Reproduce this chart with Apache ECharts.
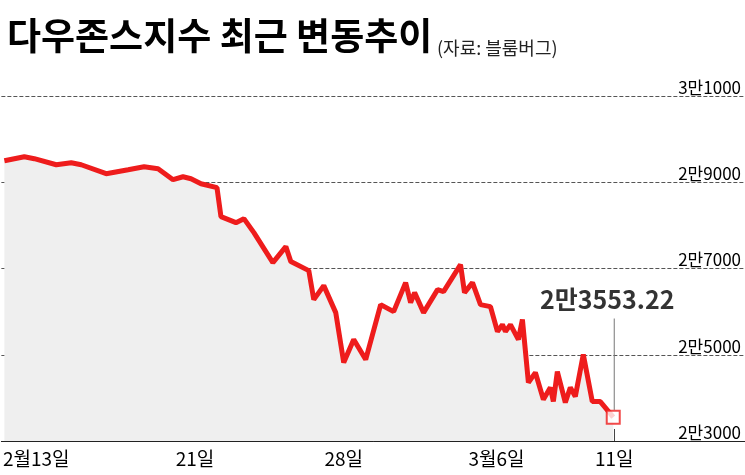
<!DOCTYPE html><html><head><meta charset="utf-8"><script src="https://cdn.jsdelivr.net/npm/echarts@6/dist/echarts.min.js"></script>
<style>body{margin:0;background:#fff}#c{width:745px;height:475px}</style></head><body><div id="c"></div><script>
const xs=[3,23,33,55,70,80,105,127,143,157,172,182,190,200,216,220,235,243,253,272,285,290,308,313,323,335,343,353,365,380,393,405,410,414,423,437,443,460,464,472,480,490,497,502,505,510,518,522,528,535,543,550,553,557,565,570,575,583,592,600,613];
const vals=[29499,29592,29546,29406,29453,29406,29198,29291,29360,29314,29059,29128,29082,28966,28874,28202,28063,28156,27831,27136,27507,27160,26951,26279,26603,25977,24819,25352,24888,26163,26000,26672,26209,26441,25977,26510,26464,27090,26441,26672,26163,26116,25537,25699,25537,25699,25352,25815,24355,24587,23962,24240,23915,24610,23892,24240,24031,25004,23915,23915,23553.22];
const tickPos=[35,194,343,496,614];
const tickLabels=['2월13일','21일','28일','3월6일','11일'];
const yTicks={31000:'3만1000',29000:'2만9000',27000:'2만7000',25000:'2만5000',23000:'2만3000'};
const endLabel='2만3553.22';
const data=xs.map((x,i)=>[x,vals[i]]);
const last=data[data.length-1];
const ch=echarts.init(document.getElementById('c'));
ch.setOption({
 animation:false,
 title:[{text:'다우존스지수 최근 변동추이',left:2,top:12,textStyle:{fontFamily:'Noto Sans CJK KR',fontWeight:'bold',fontSize:37,color:'#000',letterSpacing:-2}},
  {text:'(자료: 블룸버그)',left:432,top:34,textStyle:{fontFamily:'Noto Sans CJK KR',fontWeight:'normal',fontSize:18,color:'#222',letterSpacing:-1}},],
 grid:{left:0,right:0,top:96,bottom:34},
 xAxis:{type:'value',min:0,max:745,splitLine:{show:false},
  axisLine:{lineStyle:{color:'#222',width:1}},
  axisTick:{inside:true,length:12,lineStyle:{color:'#444'},customValues:tickPos},
  axisLabel:{customValues:tickPos,formatter:v=>tickLabels[tickPos.indexOf(v)],fontFamily:'Noto Sans CJK KR',fontSize:19,color:'#000',margin:8,letterSpacing:-1.5}},
 yAxis:{type:'value',position:'right',min:23000,max:31000,interval:2000,
  axisLine:{show:false},axisTick:{show:false},
  splitLine:{lineStyle:{type:[4,2],color:'#555',width:1}},
  axisLabel:{inside:true,verticalAlign:'bottom',margin:4,formatter:v=>yTicks[v]||'',fontFamily:'Noto Sans CJK KR',fontSize:17,color:'#000',letterSpacing:-1.8}},
 series:[{type:'line',data:data,symbol:'none',lineStyle:{color:'#ee1c1c',width:5},areaStyle:{color:'#efefef',opacity:1},z:3},
  {type:'scatter',data:[last],symbol:'rect',symbolSize:13,itemStyle:{color:'#fff',borderColor:'#ee1c1c',borderWidth:2},z:5,
   label:{show:true,position:'top',distance:98,offset:[-6,0],formatter:()=>endLabel,fontFamily:'Noto Sans CJK KR',fontWeight:'bold',fontSize:25,color:'#000',letterSpacing:-2.5}},
  {type:'line',data:[[614,23720],[614,25840]],symbol:'none',lineStyle:{color:'#777',width:1},z:4,silent:true}]
});
</script></body></html>
